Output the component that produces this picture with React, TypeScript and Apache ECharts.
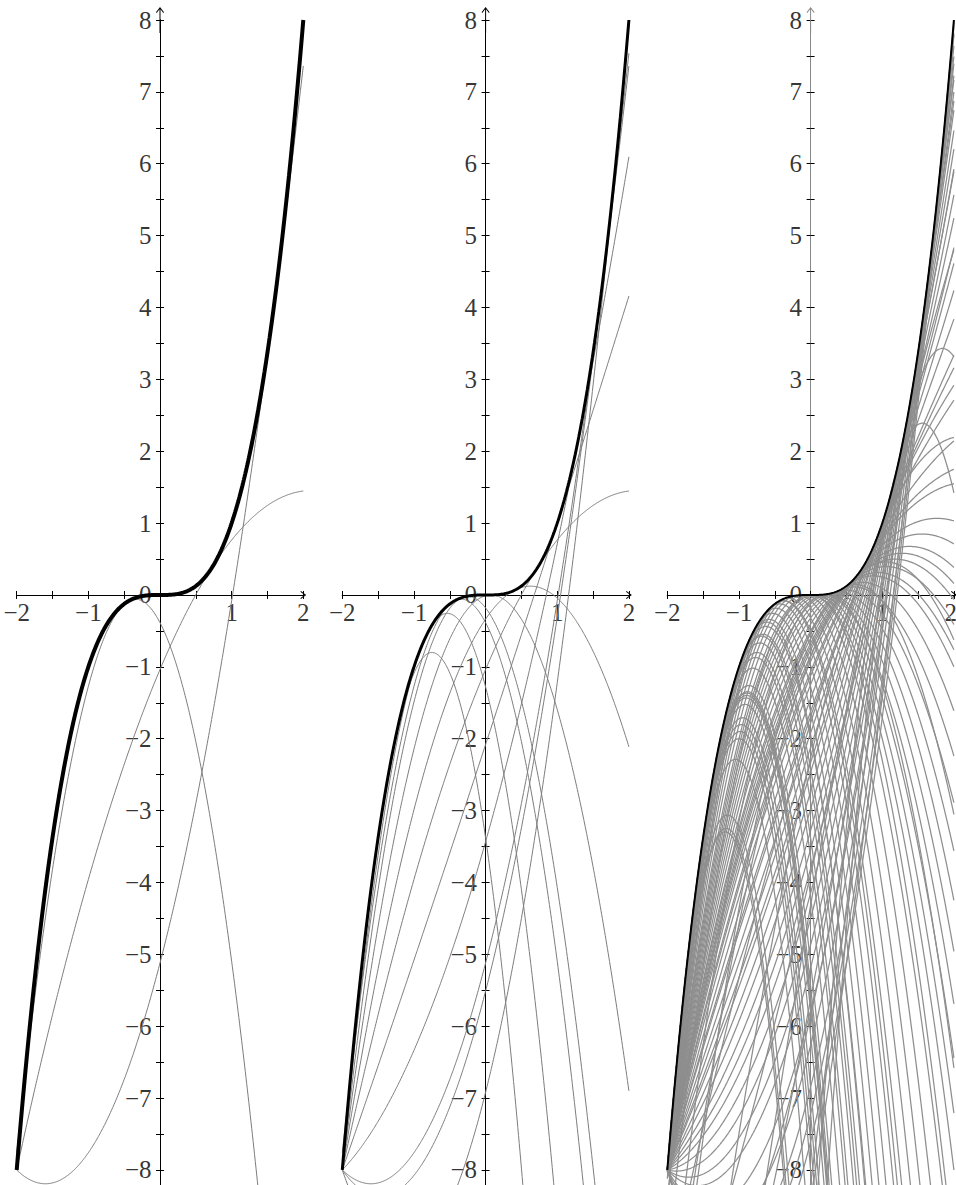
import React, { useEffect, useRef } from "react";
import * as echarts from "echarts";

// ---------- axes ----------
const X_MIN = -2;
const X_MAX = 2;
const Y_MIN = -8.5;
const Y_MAX = 8;
const TICK_STEP = 0.5;
const X_LABEL_VALUES = [-2, -1, 1, 2];
const Y_LABEL_VALUES = [8, 7, 6, 5, 4, 3, 2, 1, 0, -1, -2, -3, -4, -5, -6, -7, -8];

// ---------- curves ----------
// Black reference curve: cubic coefficients [x^3, x^2, x, 1]
const blackCubic = [1, 0, 0, 0];

// Gray curves: quadratics meeting y = x^3 at the three nodes [a, b, c]
const panel1Nodes = [
  [-2, 0.72, 0.72],
  [-2, 1.6, 1.6],
  [-1.9, -0.45, -0.45],
];

const panel2Nodes = [
  [-2, -1.3, -1.3],
  [-2, -0.8, -0.8],
  [-2, -0.3, -0.3],
  [-2, 0.07, 0.07],
  [-2, 0.41, 0.41],
  [-2, 0.72, 0.72],
  [-2, 1.02, 1.02],
  [-2, 1.31, 1.31],
  [-2, 1.6, 1.6],
  [-2, 1.66, 1.66],
  [-2, 1.86, 1.86],
  [-1.9, -0.45, -0.45],
];

const panel3Nodes = [
  // arches on the left
  [-2, -2, -2], [-2, -1.95, -1.95], [-2, -1.9, -1.9], [-2, -1.85, -1.85],
  [-2, -1.75, -1.75], [-2, -1.7, -1.7], [-2, -1.68, -1.68], [-2, -1.65, -1.65],
  [-2, -1.6, -1.6], [-2, -1.45, -1.45], [-2, -1.35, -1.35], [-2, -1.3, -1.3],
  [-2, -1.2, -1.2], [-2, -1.1, -1.1], [-2, -1.0, -1.0], [-2, -0.9, -0.9],
  [-2, -0.8, -0.8], [-2, -0.7, -0.7], [-2, -0.6, -0.6], [-2, -0.5, -0.5],
  [-2, -0.4, -0.4], [-2, -0.3, -0.3], [-2, -0.2, -0.2], [-2, -0.1, -0.1],
  // deep arches
  [-2.6, -2.6, -2], [-2.5, -2.5, -2.1], [-2.4, -2.6, -2.0], [-2.3, -2, -2],
  [-2.2, -1.6, -1.6], [-2.15, -1.1, -1.1],
  // falling near the origin
  [-2, 0, 0], [-2, 0.05, 0.05], [-2, 0.1, 0.1], [-2, 0.15, 0.15], [-2, 0.2, 0.2],
  [-2, 0.25, 0.25], [-2, 0.3, 0.3], [-2, 0.35, 0.35], [-2, 0.4, 0.4],
  // arches on the right
  [-2, 0.45, 0.45], [-2, 0.5, 0.5], [-2, 0.52, 0.52], [-2, 0.55, 0.55],
  [-2, 0.58, 0.58], [-2, 0.6, 0.6], [-2, 0.62, 0.62], [-2, 0.65, 0.65], [-2, 0.68, 0.68],
  // rising to the right edge
  [-2, 0.73, 0.73], [-2, 0.75, 0.75], [-2, 0.79, 0.79], [-2, 0.85, 0.85],
  [-2, 0.9, 0.9], [-2, 0.92, 0.92], [-2, 0.98, 0.98], [-2, 1.03, 1.03],
  [-2, 1.08, 1.08], [-2, 1.11, 1.11], [-2, 1.17, 1.17], [-2, 1.22, 1.22],
  [-2, 1.28, 1.28], [-2, 1.33, 1.33], [-2, 1.38, 1.38], [-2, 1.44, 1.44],
  [-2, 1.5, 1.5], [-2, 1.56, 1.56], [-2, 1.61, 1.61], [-2, 1.7, 1.7],
  [-2, 1.77, 1.77], [-2, 1.85, 1.85], [-2, 1.9, 1.9], [-2, 1.95, 1.95],
  // entering from the bottom
  [-2.5, 1.5, 1.5], [-3, 1.2, 1.2], [-2.3, 1.3, 1.3], [-2.2, 0.9, 0.9],
  [-2.4, 0.6, 0.6], [-2.6, 1.8, 1.8], [-2.8, 0.9, 0.9], [-2.5, 0.2, 0.2],
  [-2.3, 0, 0], [-2.2, -0.5, -0.5], [-2.4, -0.9, -0.9], [-2.6, 0.45, 0.45],
  [-3.2, 1.6, 1.6], [-2.15, 1.65, 1.65],
];

// Gray curves given by [curvature, vertex x, vertex y]
const panel3Vertex = [
  [-4.5, 1.84, 3.43],
  [-5, 1.56, 2.39],
];

const panelNodes = [panel1Nodes, panel2Nodes, panel3Nodes];
const panelVertex = [[], [], panel3Vertex];

// ---------- layout & style ----------
const PANEL_LEFTS = [16.7, 342.3, 667.3];
const PANEL_WIDTH = 286.6;
const GRID_TOP = 20;
const GRID_HEIGHT = 1185.9;
const BLACK_WIDTHS = [4, 3, 2];
const GRAY_COLORS = ["#7d7d7d", "#7d7d7d", "#8e8e8e"];
const GRAY_WIDTHS = [1, 1, 1.25];
const Y_AXIS_COLORS = ["#000", "#000", "#888"];
const FONT = '"Liberation Serif", "DejaVu Serif", serif';
const FONT_SIZE = 25;

const X_ARROW = "path://M4 0L8 5.3L7.3 5.9L4 1.7L0.7 5.9L0 5.3Z";
const Y_ARROW =
  "path://M4 0L8 5.3L7.3 5.9L4.5 2.3L4.5 26L3.5 26L3.5 2.3L0.7 5.9L0 5.3Z";

const SAMPLES = 400;
const xs: number[] = [];
for (let i = 0; i <= SAMPLES; i++) xs.push(X_MIN + ((X_MAX - X_MIN) * i) / SAMPLES);

function fmt(v: number): string {
  const r = Math.round(v);
  if (r === 0) return "0";
  return r < 0 ? "\u2212" + String(-r) : String(r);
}

function nodesCurve(n: number[]) {
  const [a, b, c] = n;
  const A = a + b + c;
  const B = -(a * b + b * c + c * a);
  const C = a * b * c;
  return xs.map((x) => [x, A * x * x + B * x + C]);
}

function vertexCurve(v: number[]) {
  const [A, h, k] = v;
  return xs.map((x) => [x, A * (x - h) * (x - h) + k]);
}

function cubicCurve(c: number[]) {
  return xs.map((x) => [x, ((c[0] * x + c[1]) * x + c[2]) * x + c[3]]);
}

function buildOption() {
  const grid: any[] = [];
  const xAxis: any[] = [];
  const yAxis: any[] = [];
  const series: any[] = [];

  for (let p = 0; p < 3; p++) {
    grid.push({
      left: PANEL_LEFTS[p],
      top: GRID_TOP,
      width: PANEL_WIDTH,
      height: GRID_HEIGHT,
      containLabel: false,
      outerBoundsMode: "none",
    });
    const tick = { show: true, length: 4, lineStyle: { color: "#000", width: 1 } };
    [0, 1].forEach((k) => {
      xAxis.push({
        type: "value",
        gridIndex: p,
        min: X_MIN,
        max: X_MAX,
        interval: TICK_STEP,
        position: k === 0 ? "bottom" : "top",
        axisLine: {
          show: true,
          onZero: true,
          onZeroAxisIndex: 2 * p,
          symbol: k === 0 ? ["none", X_ARROW] : ["none", "none"],
          symbolSize: [8, 6],
          lineStyle: { color: "#000", width: 1 },
        },
        axisTick: { ...tick, inside: false },
        axisLabel: { show: false },
        splitLine: { show: false },
      });
      yAxis.push({
        type: "value",
        gridIndex: p,
        min: Y_MIN,
        max: Y_MAX,
        interval: TICK_STEP,
        position: k === 0 ? "left" : "right",
        axisLine: {
          show: true,
          onZero: true,
          onZeroAxisIndex: 2 * p,
          symbol: k === 0 ? ["none", Y_ARROW] : ["none", "none"],
          symbolSize: [8, 26],
          lineStyle: { color: Y_AXIS_COLORS[p], width: 1 },
        },
        axisTick: { ...tick, inside: false },
        axisLabel: { show: false },
        splitLine: { show: false },
      });
    });

    const base = {
      xAxisIndex: 2 * p,
      yAxisIndex: 2 * p,
      silent: true,
      animation: false,
    };
    const labelText = {
      show: true,
      fontSize: FONT_SIZE,
      fontFamily: FONT,
      color: "#000",
      formatter: (prm: any) => fmt(prm.value[prm.value[2]]),
    };
    // tick labels placed through the axes' own scales
    series.push({
      ...base,
      type: "scatter",
      z: 1,
      clip: false,
      symbol: "circle",
      symbolSize: 1,
      itemStyle: { color: "transparent" },
      data: X_LABEL_VALUES.map((v) =>
        p === 2 && v === X_MAX
          ? { value: [v, 0, 0], label: { align: "right", offset: [3, 0] } }
          : { value: [v, 0, 0] }
      ),
      label: { ...labelText, position: "bottom", distance: 5 },
    });
    series.push({
      ...base,
      type: "scatter",
      z: 1,
      clip: false,
      symbol: "circle",
      symbolSize: 1,
      itemStyle: { color: "transparent" },
      data: Y_LABEL_VALUES.map((v) => [0, v, 1]),
      label: { ...labelText, position: "left", distance: 8 },
    });

    const line = { ...base, type: "line", showSymbol: false, symbol: "none", clip: true };
    panelNodes[p].forEach((n) => {
      series.push({
        ...line,
        z: 2,
        data: nodesCurve(n),
        lineStyle: { color: GRAY_COLORS[p], width: GRAY_WIDTHS[p] },
      });
    });
    panelVertex[p].forEach((v) => {
      series.push({
        ...line,
        z: 2,
        data: vertexCurve(v),
        lineStyle: { color: GRAY_COLORS[p], width: GRAY_WIDTHS[p] },
      });
    });
    series.push({
      ...line,
      z: 3,
      data: cubicCurve(blackCubic),
      lineStyle: { color: "#000", width: BLACK_WIDTHS[p] },
    });
  }

  return {
    animation: false,
    backgroundColor: "#fff",
    grid,
    xAxis,
    yAxis,
    series,
  };
}

export default function App() {
  const ref = useRef<HTMLDivElement>(null);
  useEffect(() => {
    if (!ref.current) return;
    const chart = echarts.init(ref.current, undefined, { renderer: "svg" });
    chart.setOption(buildOption() as any);
    return () => chart.dispose();
  }, []);
  return (
    <div
      ref={ref}
      style={{ position: "absolute", left: 0, top: 0, width: 956, height: 1185, background: "#fff" }}
    />
  );
}
